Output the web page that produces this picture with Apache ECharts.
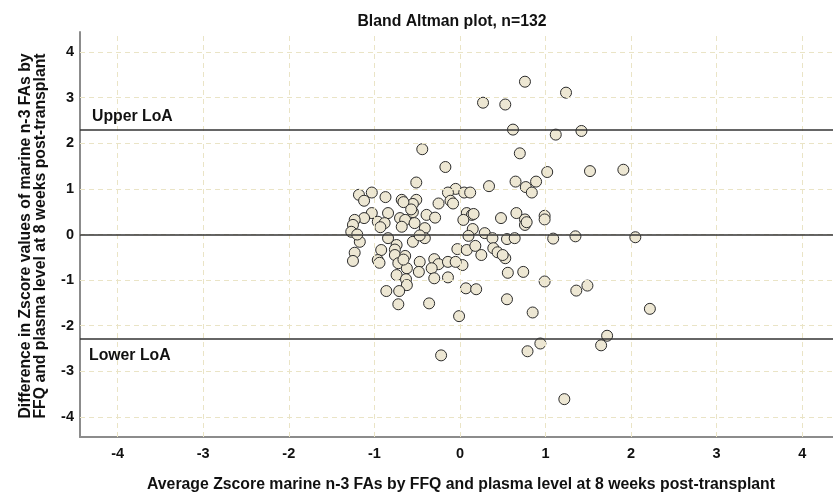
<!DOCTYPE html>
<html>
<head>
<meta charset="utf-8">
<script src="https://cdn.jsdelivr.net/npm/echarts@6/dist/echarts.min.js"></script>
<style>html,body{margin:0;padding:0;background:#fff}#c{width:833px;height:493px}</style>
</head>
<body>
<div id="c"></div>
<script>
// Average Zscore (x) and difference (y) for each subject
const avgZ = [0.76,1.24,0.27,0.53,0.62,1.12,1.42,-0.44,0.70,-0.17,1.02,1.52,1.91,-0.51,0.34,0.65,0.77,0.84,0.89,-0.05,-0.14,0.05,0.12,-0.51,-0.55,-0.11,-0.08,-0.25,-0.55,-0.39,-0.29,0.08,0.14,0.04,0.48,0.66,0.76,0.76,0.99,0.99,-0.41,0.15,0.10,0.29,0.38,0.55,0.64,1.09,1.35,2.05,-0.41,-0.55,
-1.18,-1.12,-1.03,-0.87,-0.68,-0.66,-1.03,-1.12,-1.23,-1.25,-0.84,-0.96,-0.88,-0.93,-0.70,-0.64,-0.68,-0.53,-1.27,
-1.17,-1.23,-1.25,-0.92,-0.96,-0.94,-0.84,-0.74,-0.76,-0.76,-0.64,-0.72,-0.62,-0.74,-0.63,-0.62,-0.86,-0.71,-0.72,-0.47,
-0.30,-0.25,-0.33,-0.48,-0.30,-0.14,-0.14,0.03,-0.03,0.08,0.18,0.25,0.39,0.44,0.53,0.56,0.74,0.99,0.07,0.19,-0.36,-0.01,0.55,0.85,1.36,1.49,2.22,1.72,1.65,1.22,-0.22,0.79,0.94,
-0.47,0.16,-0.57,-1.20,0.78,-0.66,0.50,-0.05];
const diffZ = [3.35,3.11,2.89,2.85,2.30,2.19,2.27,1.87,1.78,1.48,1.37,1.39,1.42,1.14,1.06,1.16,1.04,0.92,1.16,1.00,0.92,0.92,0.92,0.76,0.67,0.74,0.68,0.68,0.49,0.43,0.37,0.47,0.43,0.32,0.36,0.47,0.33,0.21,0.41,0.33,0.14,0.12,-0.03,0.03,-0.08,-0.10,-0.08,-0.09,-0.04,-0.06,-0.08,-0.16,
0.87,0.74,0.92,0.82,0.76,0.71,0.47,0.36,0.32,0.21,0.47,0.28,0.25,0.16,0.36,0.32,0.17,0.25,0.06,
-0.16,-0.40,-0.58,-0.34,-0.56,-0.62,-0.08,-0.23,-0.33,-0.45,-0.47,-0.63,-0.74,-0.89,-0.98,-1.11,-1.24,-1.24,-1.53,-0.60,
-0.54,-0.65,-0.74,-0.82,-0.96,-0.94,-0.60,-0.67,-0.32,-0.34,-0.25,-0.45,-0.30,-0.39,-0.52,-0.84,-0.82,-1.03,-1.18,-1.20,-1.51,-1.79,-1.42,-1.71,-1.23,-1.12,-1.63,-2.22,-2.43,-3.61,-2.65,-2.56,-2.39,
-0.02,0.45,0.55,0.00,0.27,-0.55,-0.45,-0.60];
const meanDiff = 0.0;
const upperLoA = 2.29;
const lowerLoA = -2.29;
const xTicks = [-4,-3,-2,-1,0,1,2,3,4];
const yTicks = [-4,-3,-2,-1,0,1,2,3,4];
const titleText = 'Bland Altman plot, n=132';
const xTitle = 'Average Zscore marine n-3 FAs by FFQ and plasma level at 8 weeks post-transplant';
const yTitle = 'Difference in Zscore values of marine n-3 FAs by\nFFQ and plasma level at 8 weeks post-transplant';

const FONT = '"Liberation Sans", Arial, sans-serif';
const pts = avgZ.map((x, i) => [x, diffZ[i]]);
const chart = echarts.init(document.getElementById('c'), null, {renderer: 'canvas'});
const gridStyle = {color: '#EAE4C6', type: [5, 4], width: 1};
chart.setOption({
  animation: false,
  backgroundColor: '#fff',
  grid: {left: 80, right: 0, top: 32, bottom: 56, containLabel: false},
  xAxis: {
    type: 'value', min: -4.44, max: 4.36,
    axisLine: {show: true, onZero: false, lineStyle: {color: '#8c8c8c', width: 2}},
    axisTick: {show: false},
    splitLine: {show: false},
    axisLabel: {customValues: xTicks, margin: 9, color: '#111', fontFamily: FONT, fontSize: 14.5, fontWeight: 'bold', formatter: v => String(v)}
  },
  yAxis: {
    type: 'value', min: -4.44, max: 4.44,
    axisLine: {show: true, onZero: false, lineStyle: {color: '#8c8c8c', width: 2}},
    axisTick: {show: false},
    splitLine: {show: false},
    axisLabel: {customValues: yTicks, margin: 6, color: '#111', fontFamily: FONT, fontSize: 14.5, fontWeight: 'bold', formatter: v => String(v)}
  },
  graphic: [
    {type: 'text', x: 452, y: 22, style: {text: titleText, textAlign: 'center', textVerticalAlign: 'middle', font: 'bold 15.8px ' + FONT, fill: '#111'}},
    {type: 'text', x: 461, y: 485, style: {text: xTitle, textAlign: 'center', textVerticalAlign: 'middle', font: 'bold 15.8px ' + FONT, fill: '#111'}},
    {type: 'text', x: 33, y: 236, rotation: Math.PI / 2, style: {text: yTitle, textAlign: 'center', textVerticalAlign: 'middle', font: 'bold 15.8px ' + FONT, lineHeight: 15, fill: '#111'}}
  ],
  series: [
    {
      type: 'scatter', data: [], silent: true, z: 1,
      markLine: {
        silent: true, symbol: 'none', animation: false, label: {show: false},
        lineStyle: gridStyle,
        data: xTicks.map(v => ({xAxis: v})).concat(yTicks.map(v => ({yAxis: v})))
      }
    },
    {
      type: 'scatter', data: [], silent: true, z: 2,
      markLine: {
        silent: true, symbol: 'none', animation: false,
        lineStyle: {color: '#333', type: 'solid', width: 1.5},
        data: [
          {yAxis: upperLoA, label: {show: true, formatter: 'Upper LoA', position: 'insideStartTop', distance: [12, 5], color: '#111', fontFamily: FONT, fontSize: 15.8, fontWeight: 'bold'}},
          {yAxis: meanDiff, label: {show: false}},
          {yAxis: lowerLoA, label: {show: true, formatter: 'Lower LoA', position: 'insideStartBottom', distance: [9, 9], color: '#111', fontFamily: FONT, fontSize: 15.8, fontWeight: 'bold'}}
        ]
      }
    },
    {
      type: 'scatter', data: pts, z: 3, symbol: 'circle', symbolSize: 11,
      itemStyle: {color: '#EDE7D3', borderColor: '#2b2b2b', borderWidth: 1, opacity: 1}
    }
  ]
});
</script>
</body>
</html>
